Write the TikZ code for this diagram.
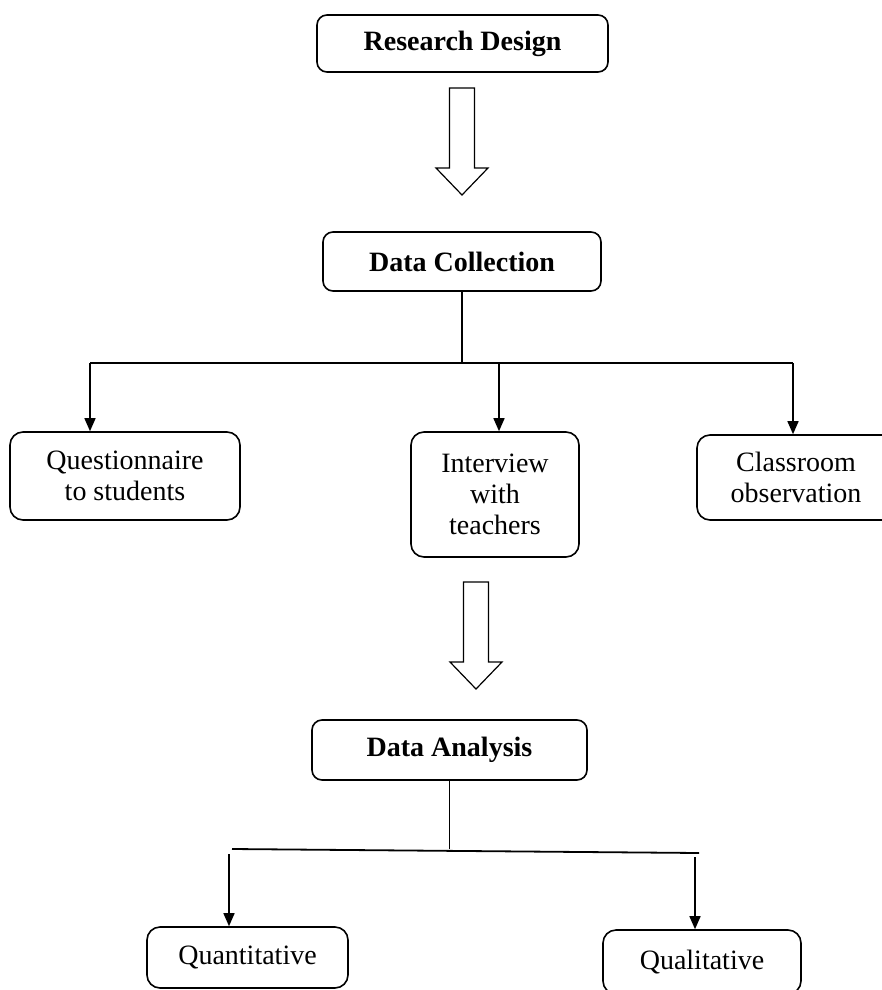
\documentclass[tikz,border=0pt]{standalone}
\usepackage{fontspec}
\setmainfont{Liberation Serif}
\usetikzlibrary{arrows.meta}
\tikzset{
    stage/.style   = {draw, line width=1.6pt, rounded corners=10pt, inner sep=0pt,
                      align=center, font=\bfseries\fontsize{28}{31}\selectfont},
    item/.style    = {draw, line width=1.6pt, rounded corners=13pt, inner sep=0pt,
                      align=center, font=\fontsize{28}{31}\selectfont},
    link/.style    = {line width=1.3pt},
    bar/.style     = {line width=1.8pt},
    branch/.style  = {line width=1.5pt, -{Triangle[length=13pt,width=11pt]}},
    bigarrow/.style= {draw, line width=1.2pt, fill=white},
    hollow/.pic    = {\draw[bigarrow] (-12.5,0) -- (12.5,0) -- (12.5,80) -- (26,80)
                      -- (0,107) -- (-26,80) -- (-12.5,80) -- cycle;}
}
\begin{document}
\begin{tikzpicture}[x=1pt,y=-1pt]
    \useasboundingbox (0,0) rectangle (882,990);
    % stages
    \node[stage, minimum width=291pt, minimum height=57pt] (design)   at (462.5,43.5) {Research Design};
    \node[stage, minimum width=278pt, minimum height=59pt] (collect)  at (462,261.5)  {Data Collection};
    \node[stage, minimum width=275pt, minimum height=60pt] (analysis) at (449.5,750)  {Data Analysis};
    % collection methods
    \node[item, minimum width=230pt, minimum height=88pt]  (quest)     at (125,476)   {Questionnaire\\to students};
    \node[item, minimum width=168pt, minimum height=125pt] (interview) at (495,494.5) {Interview\\with\\teachers};
    \node[item, minimum width=198pt, minimum height=85pt]  (class)     at (796,477.5) {Classroom\\observation};
    % analysis types
    \node[item, minimum width=201pt, minimum height=61pt]  (quant) at (247.5,957.5) {Quantitative};
    \node[item, minimum width=198pt, minimum height=64pt]  (qual)  at (702,962)     {Qualitative};

    % hollow arrows between stages
    \pic at (462,88)  {hollow};
    \pic at (476,582) {hollow};

    % branches of data collection
    \coordinate (cl) at (90,363);
    \coordinate (cm) at (499,363);
    \coordinate (cr) at (793,363);
    \draw[link] (collect.south) -- (collect.south |- cl);
    \draw[bar] (cl) -- (cr);
    \draw[branch] (cl) -- (cl |- quest.north);
    \draw[branch] (cm) -- (cm |- interview.north);
    \draw[branch] (cr) -- (cr |- class.north);

    % branches of data analysis
    \coordinate (al) at (232,849);
    \coordinate (ar) at (699,853);
    \coordinate (qa) at (229,854);
    \coordinate (qb) at (695,857);
    \draw[link] (analysis.south) -- (analysis.south |- al);
    \draw[bar] (al) -- (ar);
    \draw[branch] (qa) -- (qa |- quant.north);
    \draw[branch] (qb) -- (qb |- qual.north);
\end{tikzpicture}
\end{document}
